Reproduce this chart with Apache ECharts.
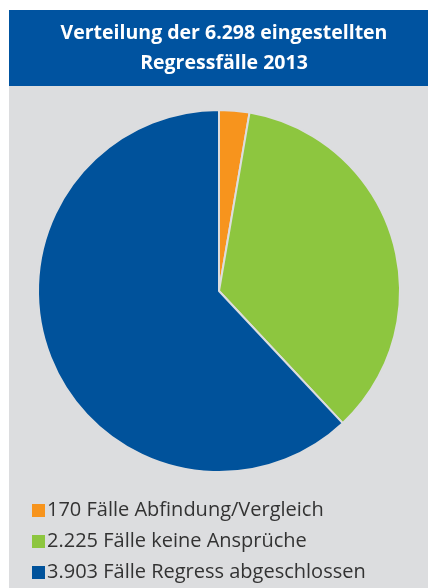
<!DOCTYPE html>
<html><head><meta charset="utf-8">
<script src="https://cdn.jsdelivr.net/npm/echarts@6/dist/echarts.min.js"></script>
<style>html,body{margin:0;padding:0;background:#fff}#c{width:428px;height:588px}</style>
</head><body><div id="c"></div>
<script>
const categories = ["170 Fälle Abfindung/Vergleich", "2.225 Fälle keine Ansprüche", "3.903 Fälle Regress abgeschlossen"];
const values = [170, 2225, 3903];
const colors = ["#f7941d", "#8dc63f", "#00529b"];
const titleText = "Verteilung der 6.298 eingestellten\nRegressfälle 2013";

const chart = echarts.init(document.getElementById('c'));
chart.setOption({
  animation: false,
  backgroundColor: '#ffffff',
  graphic: [
    {type: 'rect', z: -10, shape: {x: 9, y: 10, width: 419, height: 578}, style: {fill: '#dcdddf'}},
    {type: 'rect', z: -9, shape: {x: 9, y: 10, width: 419, height: 76}, style: {fill: '#0053a0'}}
  ],
  title: {
    text: titleText,
    left: 219, top: 13, textAlign: 'center',
    textStyle: {color: '#fff', fontFamily: 'Open Sans', fontWeight: 'bold', fontSize: 19.5, lineHeight: 30}
  },
  legend: {
    orient: 'vertical', left: 25, top: 494, height: 94,
    itemWidth: 15, itemHeight: 15, itemGap: 8, icon: 'rect',
    textStyle: {color: '#333', fontFamily: 'Open Sans', fontSize: 20, lineHeight: 23, padding: [0,0,0,-4]},
    data: categories
  },
  series: [{
    type: 'pie', center: [219, 291], radius: 181, startAngle: 90, clockwise: true,
    label: {show: false}, labelLine: {show: false},
    itemStyle: {borderColor: '#dcdddf', borderWidth: 2},
    data: categories.map((c, i) => ({name: c, value: values[i], itemStyle: {color: colors[i]}}))
  }]
});
</script></body></html>
